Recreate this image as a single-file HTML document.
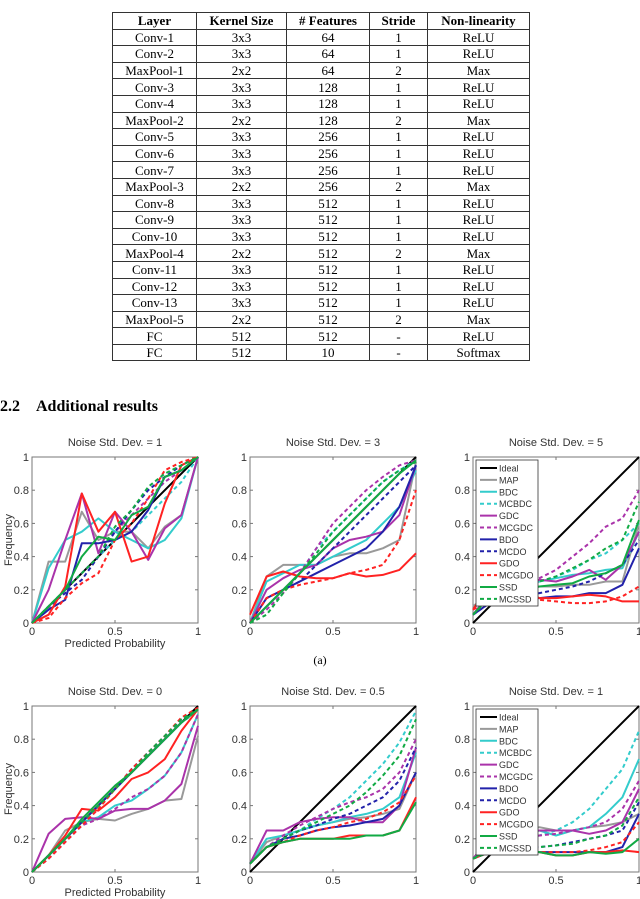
<!DOCTYPE html>
<html><head><meta charset="utf-8">
<style>
body{margin:0;width:640px;height:899px;background:#fff;position:relative;overflow:hidden;font-family:"Liberation Serif",serif}
table{position:absolute;left:112px;top:12px;border-collapse:collapse;font-size:13px}
td,th{border:1px solid #333;height:15.6px;padding:0;text-align:center;line-height:15px}
th{font-weight:bold}
#h{position:absolute;left:0;top:398px;font-weight:bold;font-size:16px}
svg{position:absolute;left:0;top:0}
</style></head><body>
<table>
<colgroup><col style="width:84px"><col style="width:90px"><col style="width:83px"><col style="width:58px"><col style="width:102px"></colgroup>
<tr><th>Layer</th><th>Kernel Size</th><th># Features</th><th>Stride</th><th>Non-linearity</th></tr>
<tr><td>Conv-1</td><td>3x3</td><td>64</td><td>1</td><td>ReLU</td></tr>
<tr><td>Conv-2</td><td>3x3</td><td>64</td><td>1</td><td>ReLU</td></tr>
<tr><td>MaxPool-1</td><td>2x2</td><td>64</td><td>2</td><td>Max</td></tr>
<tr><td>Conv-3</td><td>3x3</td><td>128</td><td>1</td><td>ReLU</td></tr>
<tr><td>Conv-4</td><td>3x3</td><td>128</td><td>1</td><td>ReLU</td></tr>
<tr><td>MaxPool-2</td><td>2x2</td><td>128</td><td>2</td><td>Max</td></tr>
<tr><td>Conv-5</td><td>3x3</td><td>256</td><td>1</td><td>ReLU</td></tr>
<tr><td>Conv-6</td><td>3x3</td><td>256</td><td>1</td><td>ReLU</td></tr>
<tr><td>Conv-7</td><td>3x3</td><td>256</td><td>1</td><td>ReLU</td></tr>
<tr><td>MaxPool-3</td><td>2x2</td><td>256</td><td>2</td><td>Max</td></tr>
<tr><td>Conv-8</td><td>3x3</td><td>512</td><td>1</td><td>ReLU</td></tr>
<tr><td>Conv-9</td><td>3x3</td><td>512</td><td>1</td><td>ReLU</td></tr>
<tr><td>Conv-10</td><td>3x3</td><td>512</td><td>1</td><td>ReLU</td></tr>
<tr><td>MaxPool-4</td><td>2x2</td><td>512</td><td>2</td><td>Max</td></tr>
<tr><td>Conv-11</td><td>3x3</td><td>512</td><td>1</td><td>ReLU</td></tr>
<tr><td>Conv-12</td><td>3x3</td><td>512</td><td>1</td><td>ReLU</td></tr>
<tr><td>Conv-13</td><td>3x3</td><td>512</td><td>1</td><td>ReLU</td></tr>
<tr><td>MaxPool-5</td><td>2x2</td><td>512</td><td>2</td><td>Max</td></tr>
<tr><td>FC</td><td>512</td><td>512</td><td>-</td><td>ReLU</td></tr>
<tr><td>FC</td><td>512</td><td>10</td><td>-</td><td>Softmax</td></tr>
</table>
<div id="h">2.2&nbsp;&nbsp;&nbsp;&nbsp;Additional results</div>
<svg id="s" width="640" height="899"></svg>
<script>
const xs=[0,0.1,0.2,0.3,0.4,0.5,0.6,0.7,0.8,0.9,1];
const seriesNames=["Ideal","MAP","BDC","MCBDC","GDC","MCGDC","BDO","MCDO","GDO","MCGDO","SSD","MCSSD"];
const colors=["#000","#999","#3cc","#3cc","#a3a","#a3a","#22a","#22a","#f22","#f22","#1a4","#1a4"];
const dashed=[0,0,0,1,0,1,0,1,0,1,0,1];
const titles=["Noise Std. Dev. = 1","Noise Std. Dev. = 3","Noise Std. Dev. = 5","Noise Std. Dev. = 0","Noise Std. Dev. = 0.5","Noise Std. Dev. = 1"];
const yTicks=[0,0.2,0.4,0.6,0.8,1];
const xTicks=[0,0.5,1];
const ideal=[0,0.1,0.2,0.3,0.4,0.5,0.6,0.7,0.8,0.9,1];
const p1=[ideal,
[0,0.37,0.37,0.67,0.5,0.55,0.55,0.45,0.58,0.65,1],
[0,0.33,0.5,0.55,0.63,0.55,0.5,0.45,0.5,0.63,1],
[0,0.1,0.2,0.3,0.4,0.5,0.55,0.65,0.75,0.85,1],
[0,0.2,0.5,0.78,0.42,0.67,0.55,0.38,0.57,0.65,1],
[0,0.08,0.2,0.3,0.4,0.55,0.65,0.75,0.85,0.92,1],
[0,0.08,0.14,0.48,0.48,0.5,0.55,0.68,0.88,0.92,1],
[0,0.1,0.18,0.26,0.4,0.55,0.68,0.8,0.88,0.95,1],
[0,0.05,0.22,0.78,0.55,0.67,0.37,0.4,0.72,0.95,1],
[0,0.03,0.15,0.24,0.3,0.5,0.6,0.75,0.92,0.97,1],
[0,0.1,0.2,0.4,0.52,0.5,0.65,0.7,0.88,0.92,1],
[0,0.1,0.2,0.3,0.4,0.58,0.68,0.82,0.9,0.95,1]];
const p2=[ideal,
[0,0.28,0.35,0.35,0.35,0.4,0.42,0.42,0.45,0.5,0.97],
[0,0.25,0.3,0.35,0.35,0.4,0.45,0.5,0.6,0.7,0.92],
[0,0.1,0.2,0.3,0.45,0.55,0.65,0.75,0.85,0.92,0.98],
[0,0.2,0.27,0.32,0.35,0.45,0.5,0.52,0.55,0.65,0.95],
[0,0.08,0.18,0.3,0.45,0.6,0.7,0.8,0.88,0.95,0.98],
[0,0.15,0.2,0.25,0.3,0.35,0.4,0.45,0.55,0.7,0.95],
[0,0.15,0.2,0.25,0.35,0.45,0.55,0.65,0.75,0.85,0.95],
[0.05,0.28,0.31,0.28,0.27,0.27,0.3,0.28,0.29,0.32,0.42],
[0,0.15,0.2,0.23,0.25,0.27,0.3,0.32,0.35,0.5,0.8],
[0,0.1,0.2,0.3,0.4,0.5,0.6,0.7,0.8,0.9,0.98],
[0,0.05,0.18,0.3,0.42,0.55,0.65,0.75,0.85,0.92,0.97]];
const p3=[ideal,
[0.1,0.18,0.2,0.2,0.22,0.22,0.23,0.23,0.25,0.25,0.6],
[0.08,0.2,0.22,0.22,0.25,0.27,0.29,0.3,0.32,0.33,0.55],
[0.05,0.14,0.2,0.22,0.25,0.28,0.32,0.38,0.42,0.5,0.6],
[0.05,0.18,0.2,0.22,0.26,0.25,0.28,0.32,0.26,0.35,0.55],
[0.05,0.15,0.2,0.25,0.27,0.32,0.4,0.48,0.58,0.63,0.8],
[0.05,0.12,0.15,0.15,0.15,0.16,0.16,0.18,0.18,0.23,0.45],
[0.05,0.12,0.15,0.16,0.18,0.2,0.22,0.25,0.3,0.35,0.5],
[0.08,0.23,0.23,0.2,0.15,0.15,0.16,0.17,0.16,0.13,0.13],
[0.08,0.14,0.15,0.15,0.14,0.13,0.12,0.12,0.13,0.16,0.22],
[0.05,0.16,0.2,0.2,0.22,0.23,0.24,0.28,0.3,0.35,0.62],
[0.05,0.15,0.2,0.22,0.25,0.28,0.33,0.38,0.45,0.5,0.73]];
const p4=[ideal,
[0,0.1,0.25,0.3,0.32,0.31,0.35,0.38,0.43,0.44,0.82],
[0,0.1,0.2,0.3,0.33,0.4,0.43,0.5,0.58,0.72,0.95],
[0,0.08,0.18,0.28,0.38,0.5,0.62,0.72,0.8,0.9,0.97],
[0,0.23,0.32,0.33,0.32,0.37,0.38,0.38,0.43,0.53,0.88],
[0,0.08,0.18,0.28,0.32,0.38,0.45,0.5,0.58,0.72,0.95],
[0,0.1,0.2,0.3,0.4,0.5,0.6,0.7,0.8,0.9,0.98],
[0,0.1,0.2,0.3,0.4,0.5,0.62,0.72,0.82,0.92,0.98],
[0,0.1,0.22,0.38,0.37,0.45,0.56,0.6,0.68,0.85,0.98],
[0,0.08,0.18,0.28,0.38,0.5,0.62,0.72,0.82,0.93,0.99],
[0,0.1,0.2,0.32,0.42,0.52,0.6,0.7,0.8,0.9,0.98],
[0,0.1,0.2,0.3,0.4,0.5,0.6,0.72,0.82,0.92,0.98]];
const p5=[ideal,
[0.05,0.18,0.22,0.25,0.28,0.3,0.32,0.33,0.35,0.38,0.6],
[0.05,0.2,0.22,0.25,0.28,0.3,0.33,0.35,0.38,0.45,0.72],
[0.05,0.15,0.2,0.25,0.32,0.38,0.45,0.55,0.65,0.78,0.97],
[0.05,0.25,0.25,0.3,0.32,0.33,0.33,0.3,0.3,0.4,0.75],
[0.05,0.15,0.22,0.28,0.33,0.38,0.42,0.45,0.5,0.6,0.8],
[0.05,0.15,0.2,0.22,0.25,0.27,0.28,0.3,0.32,0.4,0.6],
[0.05,0.15,0.2,0.25,0.28,0.32,0.35,0.4,0.45,0.55,0.75],
[0.05,0.15,0.18,0.2,0.2,0.2,0.22,0.22,0.22,0.25,0.45],
[0.05,0.15,0.18,0.22,0.25,0.27,0.3,0.32,0.36,0.42,0.58],
[0.05,0.15,0.18,0.2,0.2,0.2,0.2,0.22,0.22,0.25,0.42],
[0.05,0.15,0.2,0.25,0.3,0.35,0.4,0.48,0.58,0.7,0.92]];
const p6=[ideal,
[0.08,0.2,0.22,0.25,0.27,0.25,0.25,0.27,0.28,0.3,0.35],
[0.08,0.18,0.2,0.22,0.25,0.22,0.25,0.27,0.35,0.45,0.68],
[0.08,0.15,0.18,0.2,0.22,0.25,0.3,0.38,0.5,0.62,0.85],
[0.08,0.2,0.22,0.25,0.25,0.25,0.25,0.23,0.25,0.3,0.5],
[0.08,0.15,0.18,0.2,0.22,0.23,0.25,0.27,0.3,0.38,0.55],
[0.08,0.12,0.14,0.13,0.12,0.12,0.12,0.12,0.12,0.15,0.35],
[0.08,0.12,0.14,0.15,0.15,0.16,0.18,0.2,0.22,0.25,0.42],
[0.08,0.12,0.14,0.13,0.12,0.1,0.1,0.12,0.12,0.13,0.12],
[0.08,0.12,0.13,0.13,0.12,0.12,0.12,0.13,0.15,0.18,0.3],
[0.08,0.14,0.13,0.13,0.12,0.1,0.1,0.12,0.11,0.12,0.2],
[0.08,0.12,0.15,0.15,0.15,0.16,0.17,0.2,0.22,0.28,0.45]];
const panels=[p1,p2,p3,p4,p5,p6];
const NS="http://www.w3.org/2000/svg";
const svg=document.getElementById('s');
function mk(tag,attrs,parent,txt){const e=document.createElementNS(NS,tag);for(const k in attrs)e.setAttribute(k,attrs[k]);if(txt!==undefined)e.textContent=txt;(parent||svg).appendChild(e);return e;}
const colX=[32,250,473], rowY=[457,706], W=166, H=166;
panels.forEach((data,pi)=>{
  const x0=colX[pi%3], y0=rowY[Math.floor(pi/3)];
  const sx=v=>x0+v*W, sy=v=>y0+H-v*H;
  const g=mk('g',{});
  
  
  mk('rect',{x:x0,y:y0,width:W,height:H,fill:'#fff',stroke:'#777','stroke-width':1},g);
  const t=mk('text',{x:x0+W/2,y:y0-11,'text-anchor':'middle','font-size':11,'font-family':'Liberation Sans, sans-serif',fill:'#333'},g,titles[pi]);
  
  
  yTicks.forEach(v=>{
    mk('line',{x1:x0,x2:x0+3,y1:sy(v),y2:sy(v),stroke:'#777'},g);
    mk('line',{x1:x0+W-3,x2:x0+W,y1:sy(v),y2:sy(v),stroke:'#777'},g);
    const l=mk('text',{x:x0-3,y:sy(v)+4,'text-anchor':'end','font-size':11,'font-family':'Liberation Sans, sans-serif',fill:'#333'},g,String(v));
    
    
  });
  xTicks.forEach(v=>{
    mk('line',{x1:sx(v),x2:sx(v),y1:y0+H,y2:y0+H-3,stroke:'#777'},g);
    mk('line',{x1:sx(v),x2:sx(v),y1:y0,y2:y0+3,stroke:'#777'},g);
    const l=mk('text',{x:sx(v),y:y0+H+12,'text-anchor':'middle','font-size':11,'font-family':'Liberation Sans, sans-serif',fill:'#333'},g,String(v));
    
    
  });
  const cg=mk('g',{},g);
  data.forEach((ys,si)=>{
    const d=ys.map((v,i)=>(i?'L':'M')+sx(xs[i]).toFixed(1)+','+sy(v).toFixed(1)).join('');
    const p=mk('path',{d:d,fill:'none',stroke:colors[si],'stroke-width':2,'stroke-dasharray':dashed[si]?'4,3':'none','stroke-linejoin':'round'},cg);
    
    
  });
  if(pi%3===0){
    const yl=mk('text',{transform:`translate(12,${y0+H/2}) rotate(-90)`,'text-anchor':'middle','font-size':11,'font-family':'Liberation Sans, sans-serif',fill:'#333'},g,'Frequency');
    
    
    const xl=mk('text',{x:x0+W/2,y:y0+H+24,'text-anchor':'middle','font-size':11,'font-family':'Liberation Sans, sans-serif',fill:'#333'},g,'Predicted Probability');
    
    
  }
  if(pi%3===2){
    const lg=mk('g',{},g);
    
    
    mk('rect',{x:x0+3,y:y0+3,width:62,height:146,fill:'#fff',stroke:'#333','stroke-width':0.8},lg);
    seriesNames.forEach((n,si)=>{
      const yy=y0+11+si*11.9;
      mk('line',{x1:x0+7,x2:x0+24,y1:yy,y2:yy,stroke:colors[si],'stroke-width':2,'stroke-dasharray':dashed[si]?'4,3':'none'},lg);
      const e=mk('text',{x:x0+26,y:yy+3.5,'font-size':9,'font-family':'Liberation Sans, sans-serif',fill:'#333'},lg,n);
      
      
    });
  }
});
const a=mk('text',{x:320,y:664,'text-anchor':'middle','font-size':12,'font-family':'Liberation Serif, serif',fill:'#000'},svg,'(a)');


</script>
</body></html>
